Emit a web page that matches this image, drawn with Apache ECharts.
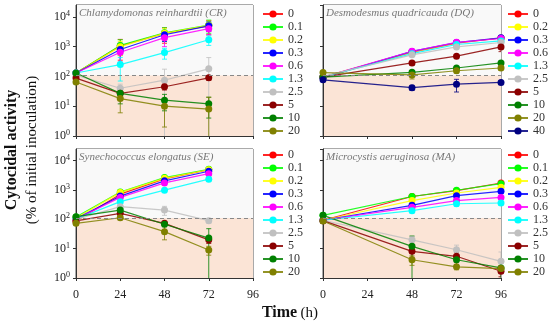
<!DOCTYPE html>
<html><head><meta charset="utf-8">
<script src="https://cdn.jsdelivr.net/npm/echarts@6/dist/echarts.min.js"></script>
<style>html,body{margin:0;padding:0;background:#fff}#c{width:550px;height:330px}</style>
</head><body><div id="c"></div>
<script>
// ---- data ----
const timesCR = [0, 24, 48, 72];
const timesDQ = [0, 48, 72, 96];
const timesSE = [0, 24, 48, 72];
const timesMA = [0, 48, 72, 96];
const xTicks = [0, 24, 48, 72, 96];
const yTickExps = [0, 1, 2, 3, 4];

const concCR = ['0','0.1','0.2','0.3','0.6','1.3','2.5','5','10','20'];
const concDQ = ['0','0.2','0.3','0.6','1.3','2.5','5','10','20','40'];
const concSE = ['0','0.1','0.2','0.3','0.6','1.3','2.5','5','10','20'];
const concMA = ['0','0.1','0.2','0.3','0.6','1.3','2.5','5','10','20'];

// mean values (% of initial inoculation), one row per concentration
const meanCR = [
  [130, 1050, 2800, 5000],
  [130, 1100, 2900, 5300],
  [130, 1000, 2800, 5200],
  [130, 800, 2500, 5000],
  [130, 650, 2000, 4000],
  [130, 250, 630, 1700],
  [110, 40, 75, 180],
  [88, 27, 45, 90],
  [130, 27, 16, 12],
  [65, 18, 10, 8]
];
const sdCR = [
  [10, 700, 1500, 2500],
  [10, 600, 1400, 2500],
  [10, 500, 1200, 2000],
  [10, 500, 1000, 1800],
  [10, 400, 1000, 1500],
  [10, 180, 250, 600],
  [10, 15, 100, 250],
  [8, 8, 10, 15],
  [10, 15, 9, 8],
  [8, 12, 8, 12]
];
const meanDQ = [
  [95, 650, 1300, 1950],
  [95, 670, 1350, 1950],
  [90, 690, 1380, 1980],
  [95, 700, 1400, 1880],
  [95, 580, 1180, 1560],
  [100, 530, 980, 1380],
  [95, 285, 480, 980],
  [95, 137, 192, 285],
  [135, 112, 155, 192],
  [77, 42, 55, 63]
];
const sdDQ = [
  [10, 60, 150, 300],
  [10, 60, 150, 300],
  [10, 60, 150, 400],
  [10, 60, 150, 300],
  [10, 60, 120, 250],
  [10, 50, 100, 200],
  [10, 40, 60, 300],
  [10, 20, 25, 40],
  [15, 30, 25, 30],
  [10, 8, 25, 8]
];
const meanSE = [
  [88, 720, 2400, 4900],
  [120, 850, 2650, 5100],
  [110, 830, 2500, 4900],
  [105, 620, 2050, 4350],
  [100, 560, 1750, 3600],
  [102, 400, 990, 2340],
  [100, 270, 207, 90],
  [88, 160, 73, 20],
  [123, 207, 68, 23],
  [73, 113, 38, 9]
];
const sdSE = [
  [10, 150, 300, 600],
  [10, 150, 300, 600],
  [10, 150, 300, 600],
  [10, 100, 300, 500],
  [10, 100, 250, 500],
  [10, 60, 150, 300],
  [10, 40, 70, 15],
  [10, 30, 10, 5],
  [10, 40, 10, 25],
  [10, 15, 18, 3]
];
const meanMA = [
  [93, 600, 950, 1730],
  [137, 600, 980, 1650],
  [93, 435, 790, 1230],
  [93, 300, 640, 900],
  [93, 256, 435, 560],
  [93, 197, 340, 360],
  [93, 20, 9.2, 3.7],
  [90, 8.1, 5.5, 1.7],
  [137, 12, 4.2, 2.2],
  [88, 4.2, 2.4, 2.1]
];
const sdMA = [
  [10, 60, 100, 200],
  [10, 60, 100, 200],
  [10, 50, 80, 150],
  [10, 40, 60, 100],
  [10, 30, 50, 80],
  [10, 30, 60, 60],
  [10, 6, 4, 4],
  [10, 3, 2, 0.6],
  [10, 15, 2, 1.5],
  [10, 1.5, 0.5, 0.5]
];
const threshold = 110;

const colorOf = {
  '0':'#ff0000','0.1':'#00ff00','0.2':'#ffff00','0.3':'#0000ff','0.6':'#ff00ff',
  '1.3':'#00ffff','2.5':'#c0c0c0','5':'#8b0000','10':'#008000','20':'#808000','40':'#000080'
};

const panels = [
  {title:'Chlamydomonas reinhardtii (CR)', zone:'Algicidal', times:timesCR, conc:concCR, mean:meanCR, sd:sdCR,
   grid:{left:76, top:5, width:177, height:131}, legend:{left:262, top:8}, showX:false, showY:true},
  {title:'Desmodesmus quadricauda (DQ)', zone:'Algicidal', times:timesDQ, conc:concDQ, mean:meanDQ, sd:sdDQ,
   grid:{left:323, top:5, width:178, height:131}, legend:{left:507, top:8}, showX:false, showY:false},
  {title:'Synechococcus elongatus (SE)', zone:'Cyanocidal', times:timesSE, conc:concSE, mean:meanSE, sd:sdSE,
   grid:{left:76, top:149, width:177, height:129}, legend:{left:262, top:149}, showX:true, showY:true},
  {title:'Microcystis aeruginosa (MA)', zone:'Cyanocidal', times:timesMA, conc:concMA, mean:meanMA, sd:sdMA,
   grid:{left:323, top:149, width:178, height:129}, legend:{left:507, top:149}, showX:true, showY:false}
];

const FONT = '"Liberation Serif", "DejaVu Serif", serif';
const option = {
  animation:false,
  textStyle:{fontFamily:FONT},
  grid:[], xAxis:[], yAxis:[], series:[], legend:[], title:[], graphic:[]
};

panels.forEach((p, pi) => {
  option.grid.push(Object.assign({show:true, borderColor:'#555', borderWidth:1, backgroundColor:'transparent'}, p.grid));
  option.xAxis.push({
    type:'value', gridIndex:pi, min:xTicks[0], max:xTicks[xTicks.length-1], interval:24,
    axisLine:{onZero:false, lineStyle:{color:'#333'}},
    axisTick:{show:true, length:3, lineStyle:{color:'#333'}},
    axisLabel:{show:p.showX, color:'#222', fontSize:12, margin:11, fontFamily:FONT},
    splitLine:{show:false}
  });
  option.yAxis.push({
    type:'log', logBase:10, gridIndex:pi, min:Math.pow(10, yTickExps[0]), max:25000,
    axisLine:{show:true, lineStyle:{color:'#333'}},
    axisTick:{show:true, length:3, lineStyle:{color:'#333'}},
    splitLine:{show:false}, minorTick:{show:false},
    axisLabel:{show:p.showY, showMaxLabel:false, margin:6,
      formatter:v => '{a|10}{b|' + Math.round(Math.log10(v)) + '}',
      rich:{a:{fontSize:12, color:'#222', fontFamily:FONT, lineHeight:14},
            b:{fontSize:8, color:'#222', fontFamily:FONT, lineHeight:9, verticalAlign:'top'}}}
  });
  // error bars
  const ebData = [];
  p.conc.forEach((c, ci) => {
    p.times.forEach((t, ti) => {
      const m = p.mean[ci][ti], s = p.sd[ci][ti];
      ebData.push([t, m, Math.max(m - s, 0.3), m + s, ci]);
    });
  });
  option.series.push({
    type:'custom', xAxisIndex:pi, yAxisIndex:pi, clip:true, z:1, silent:true,
    encode:{x:0, y:1},
    data:ebData,
    renderItem:(params, api) => {
      const x = api.value(0), lo = api.value(2), hi = api.value(3);
      const col = colorOf[p.conc[api.value(4)]];
      const a = api.coord([x, hi]), b = api.coord([x, lo]);
      const st = {stroke:col, lineWidth:1, opacity:0.8};
      return {type:'group', children:[
        {type:'line', shape:{x1:a[0], y1:a[1], x2:b[0], y2:b[1]}, style:st},
        {type:'line', shape:{x1:a[0]-2.5, y1:a[1], x2:a[0]+2.5, y2:a[1]}, style:st},
        {type:'line', shape:{x1:b[0]-2.5, y1:b[1], x2:b[0]+2.5, y2:b[1]}, style:st}
      ]};
    }
  });
  // lines
  p.conc.forEach((c, ci) => {
    const s = {
      type:'line', name:c, xAxisIndex:pi, yAxisIndex:pi, z:3,
      data:p.times.map((t, ti) => [t, p.mean[ci][ti]]),
      symbol:'circle', symbolSize:7,
      itemStyle:{color:colorOf[c]},
      lineStyle:{color:colorOf[c], width:1.2, opacity:0.85},
      emphasis:{disabled:true}
    };
    if (ci === 0) {
      s.markArea = {silent:true, z:0, data:[
        [{yAxis:1, itemStyle:{color:'#fbe4d6'}}, {yAxis:threshold}],
        [{yAxis:threshold, itemStyle:{color:'#f9f9f9'}}, {yAxis:25000}]
      ]};
      s.markLine = {silent:true, symbol:'none', label:{show:false},
        lineStyle:{color:'#888', type:[4,3], width:1}, data:[{yAxis:threshold}]};
    }
    option.series.push(s);
  });
  option.legend.push({
    orient:'vertical', left:p.legend.left, top:p.legend.top, data:p.conc, padding:0,
    itemWidth:20, itemHeight:9, itemGap:1, selectedMode:false,
    textStyle:{fontSize:12, color:'#333', fontFamily:FONT, lineHeight:12}
  });
  option.title.push({
    text:p.title, left:p.grid.left + 3, top:p.grid.top + 3, padding:0,
    textStyle:{fontSize:11, fontStyle:'italic', fontWeight:'normal', color:'#777', fontFamily:FONT}
  });
  option.graphic.push({
    type:'text', left:p.grid.left + 7, top:p.grid.top + p.grid.height - 17,
    style:{text:p.zone, fontSize:11.5, fill:'#888', font:'11.5px ' + FONT}
  });
});

option.graphic.push(
  {type:'text', x:12, y:150, rotation:Math.PI/2,
   style:{text:'Cytocidal activity', font:'bold 16px ' + FONT, fill:'#111', align:'center', verticalAlign:'middle'}},
  {type:'text', x:32, y:150, rotation:Math.PI/2,
   style:{text:'(% of initial inoculation)', font:'15px ' + FONT, fill:'#111', align:'center', verticalAlign:'middle'}},
  {type:'text', x:290, y:313,
   style:{text:'{a|Time} {b|(h)}', align:'center', verticalAlign:'middle',
     rich:{a:{font:'bold 16px ' + FONT, fill:'#111'}, b:{font:'15px ' + FONT, fill:'#111'}}}}
);

const chart = echarts.init(document.getElementById('c'), null, {renderer:'canvas'});
chart.setOption(option);
</script></body></html>
